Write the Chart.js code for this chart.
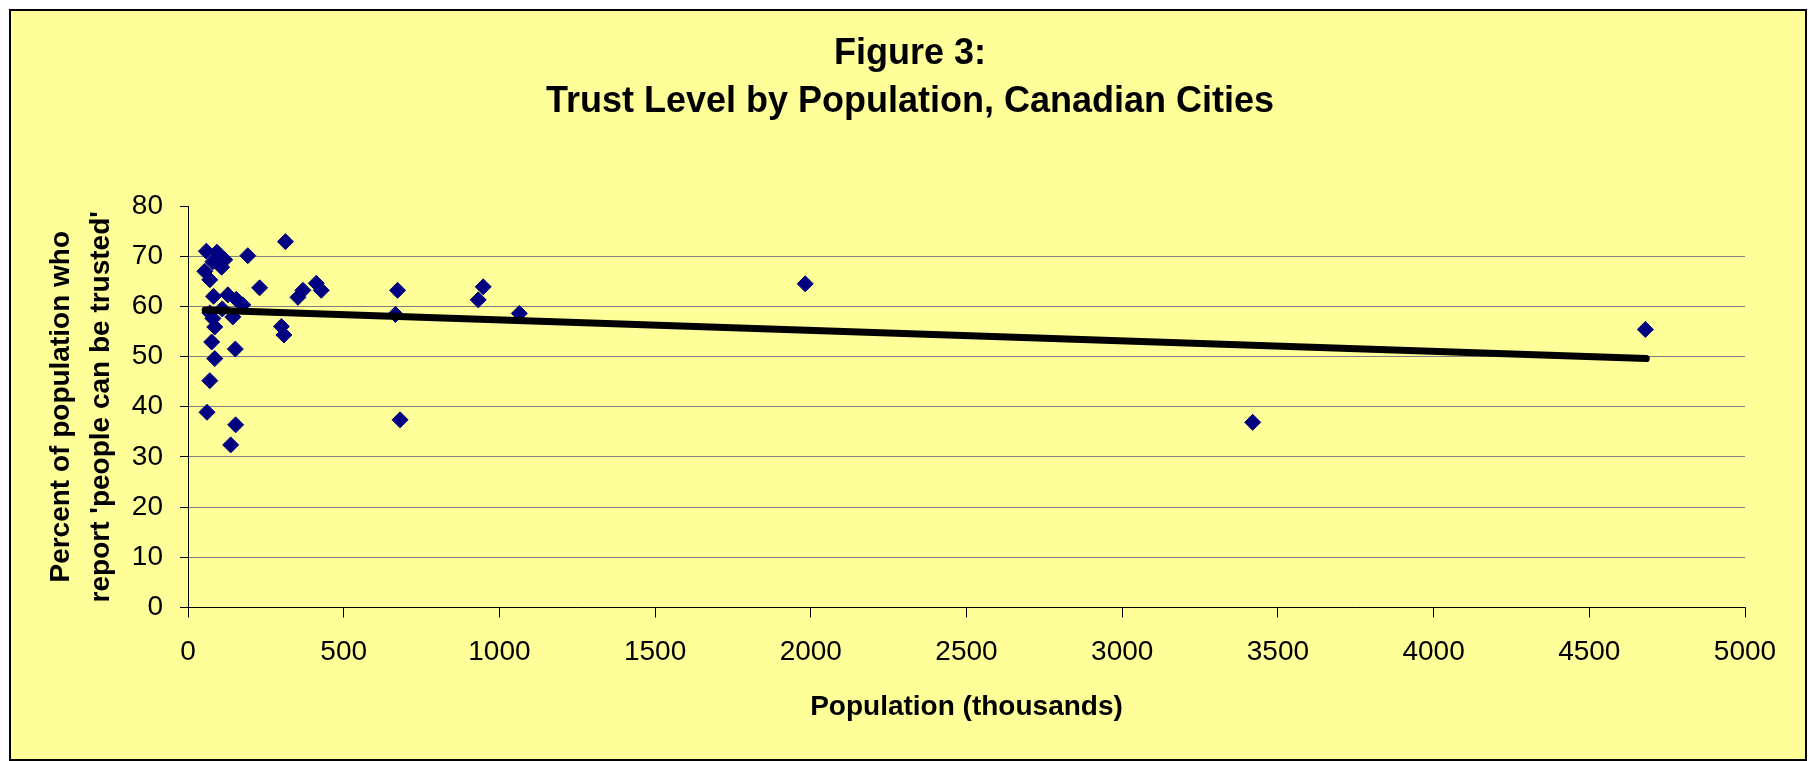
<!DOCTYPE html>
<html>
<head>
<meta charset="utf-8">
<script src="https://cdn.jsdelivr.net/npm/chart.js@4/dist/chart.umd.min.js"></script>
<style>
  html, body { margin: 0; padding: 0; background: #ffffff; }
  #frame {
    position: absolute; left: 9px; top: 9px; width: 1798px; height: 752px;
    box-sizing: border-box; background: #ffff99; border: 2px solid #000;
  }
  #chart { position: absolute; left: 0; top: 0; }
</style>
</head>
<body>
<div id="frame"></div>
<canvas id="chart" width="1809" height="761"></canvas>
<script>
// Population in thousands, and percent who say 'people can be trusted'
const population = [
  59, 93, 118, 80, 108, 54, 70, 192, 230, 313,
  353, 369, 412, 428, 82, 128, 155, 176, 144, 80,
  86, 300, 308, 76, 152, 86, 70, 61, 153, 137,
  70, 110, 673, 666, 681, 948, 932, 1064, 1982, 3419,
  4680
];
const trustPct = [
  71.0, 70.8, 69.3, 68.9, 67.8, 67.0, 65.3, 70.1, 63.7, 72.9,
  61.8, 63.2, 64.6, 63.2, 62.0, 62.3, 61.4, 60.3, 57.9, 57.6,
  55.9, 56.0, 54.3, 52.9, 51.5, 49.6, 45.2, 38.9, 36.4, 32.4,
  58.7, 59.5, 63.2, 58.4, 37.4, 63.9, 61.3, 58.6, 64.5, 36.9,
  55.4
];

// trend line end points as drawn in the picture
const trendX = [55, 4683];
const trendY = [59.3, 49.6];

const TITLE_LINES = ['Figure 3:', 'Trust Level by Population, Canadian Cities'];
const X_TITLE = 'Population (thousands)';
const Y_TITLE = ['Percent of population who', "report 'people can be trusted'"];

const FONT = '"Liberation Sans", Arial, sans-serif';

const points = population.map((p, i) => ({ x: p, y: trustPct[i] }));
const trend = trendX.map((x, i) => ({ x: x, y: trendY[i] }));

new Chart(document.getElementById('chart').getContext('2d'), {
  type: 'scatter',
  data: {
    datasets: [
      {
        label: 'Trend',
        data: trend,
        showLine: true,
        borderColor: '#000000',
        borderWidth: 7,
        borderCapStyle: 'round',
        pointRadius: 0,
        order: 0
      },
      {
        label: 'Cities',
        data: points,
        pointStyle: 'rectRot',
        pointRadius: 8,
        pointBackgroundColor: '#000080',
        pointBorderColor: '#000080',
        pointBorderWidth: 1,
        order: 1
      }
    ]
  },
  options: {
    responsive: false,
    animation: false,
    layout: { padding: { left: 11, right: 0, top: 0, bottom: 0 } },
    plugins: {
      legend: { display: false },
      tooltip: { enabled: false },
      title: {
        display: true,
        text: TITLE_LINES,
        color: '#000000',
        font: { family: FONT, size: 36, weight: 'bold', lineHeight: 48 / 36 },
        padding: { top: 30, bottom: 80 }
      }
    },
    scales: {
      x: {
        type: 'linear',
        min: 0,
        max: 5000,
        ticks: {
          stepSize: 500, color: '#000000', padding: 18, maxRotation: 0, autoSkip: false,
          font: { family: FONT, size: 28 },
          callback: (v) => String(v)
        },
        grid: { drawOnChartArea: false, tickLength: 10, tickColor: '#000000' },
        border: { color: '#000000', width: 1 },
        title: {
          display: true, text: X_TITLE, color: '#000000',
          font: { family: FONT, size: 28, weight: 'bold' },
          padding: { top: 0, bottom: 37 }
        },
        afterFit: (s) => { s.height = 761 - 607.5; }
      },
      y: {
        min: 0,
        max: 80,
        ticks: {
          stepSize: 10, color: '#000000', padding: 17,
          font: { family: FONT, size: 28 }
        },
        grid: {
          color: (ctx) => ctx.tick && ctx.tick.value === 80 ? 'rgba(0,0,0,0)' : '#808080',
          lineWidth: 1,
          tickLength: 8,
          tickColor: '#000000'
        },
        border: { color: '#000000', width: 1 },
        title: {
          display: true, text: Y_TITLE, color: '#000000',
          font: { family: FONT, size: 28, weight: 'bold', lineHeight: 40 / 28 },
          padding: { top: 30, bottom: 0 }
        },
        afterFit: (s) => { s.width = 188 - 11; }
      },
      // empty right axis, only keeps the plot clear of the frame's right side
      spacer: {
        position: 'right',
        min: 0,
        max: 80,
        ticks: { display: false },
        grid: { display: false },
        border: { display: false },
        afterFit: (s) => { s.width = 1809 - 1745; }
      }
    }
  }
});
</script>
</body>
</html>
